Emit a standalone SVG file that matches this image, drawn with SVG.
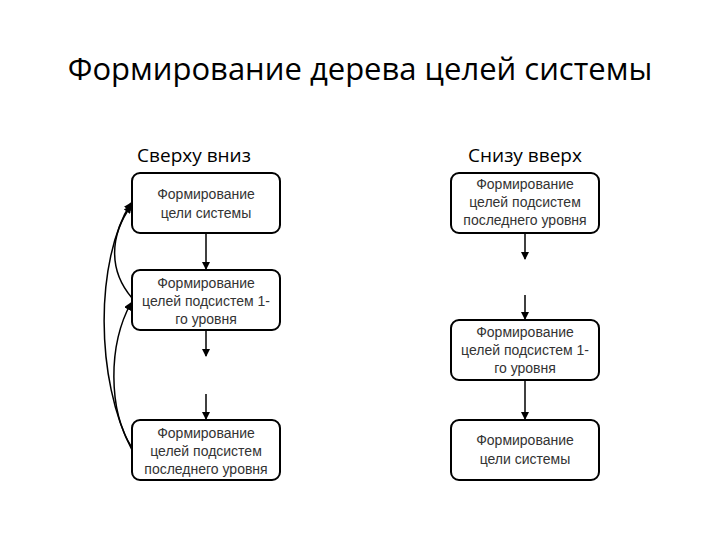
<svg xmlns="http://www.w3.org/2000/svg" width="720" height="540" viewBox="0 0 720 540">
<style>
.b{fill:#fff;stroke:#000;stroke-width:2}
.t{font-family:"Liberation Sans",Arial,sans-serif;font-size:14px;fill:#333;text-anchor:middle}
.h{font-family:"Open Sans","Liberation Sans",sans-serif;font-size:19px;fill:#000;text-anchor:middle}
.c{fill:none;stroke:#000;stroke-width:1.5}
</style>
<defs><marker id="a" markerWidth="8" markerHeight="8" refX="7" refY="4" orient="auto" markerUnits="userSpaceOnUse"><path d="M0,0L8,4L0,8z"/></marker></defs>
<rect width="720" height="540" fill="#fff"/>
<text x="360" y="80" style="font-family:'Open Sans','Liberation Sans',sans-serif;font-size:31px;fill:#000;text-anchor:middle">Формирование дерева целей системы</text>
<text class="h" x="194" y="162">Сверху вниз</text>
<text class="h" x="525" y="162">Снизу вверх</text>
<g id="L1"><rect class="b" x="132" y="173" width="148" height="60" rx="8"/><text class="t" x="206" y="199">Формирование</text><text class="t" x="206" y="218">цели системы</text></g>
<g id="L2"><rect class="b" x="132" y="270" width="148" height="60" rx="8"/><text class="t" x="206" y="288">Формирование</text><text class="t" x="206" y="306">целей подсистем 1-</text><text class="t" x="206" y="324">го уровня</text></g>
<g id="L3"><rect class="b" x="132" y="420" width="148" height="60" rx="8"/><text class="t" x="206" y="438">Формирование</text><text class="t" x="206" y="456">целей подсистем</text><text class="t" x="206" y="474">последнего уровня</text></g>
<g id="R1"><rect class="b" x="451" y="173" width="148" height="60" rx="8"/><text class="t" x="525" y="189">Формирование</text><text class="t" x="525" y="207">целей подсистем</text><text class="t" x="525" y="225">последнего уровня</text></g>
<g id="R2"><rect class="b" x="451" y="320" width="148" height="60" rx="8"/><text class="t" x="525" y="337">Формирование</text><text class="t" x="525" y="355">целей подсистем 1-</text><text class="t" x="525" y="373">го уровня</text></g>
<g id="R3"><rect class="b" x="451" y="420" width="148" height="60" rx="8"/><text class="t" x="525" y="445">Формирование</text><text class="t" x="525" y="464">цели системы</text></g>
<g id="connectors">
<line class="c" x1="206" y1="233" x2="206" y2="269" marker-end="url(#a)"/>
<line class="c" x1="206" y1="330" x2="206" y2="356" marker-end="url(#a)"/>
<line class="c" x1="206" y1="394" x2="206" y2="419" marker-end="url(#a)"/>
<line class="c" x1="525" y1="233" x2="525" y2="259" marker-end="url(#a)"/>
<line class="c" x1="525" y1="295" x2="525" y2="319" marker-end="url(#a)"/>
<line class="c" x1="525" y1="380" x2="525" y2="419" marker-end="url(#a)"/>
<path class="c" d="M132,450 C95,380 95,260 131,203" marker-end="url(#a)"/>
<path class="c" d="M132,448 C108,410 108,345 131,303" marker-end="url(#a)"/>
<path class="c" d="M132,298 C108,270 110,235 131,206" marker-end="url(#a)"/>
</g>
</svg>
